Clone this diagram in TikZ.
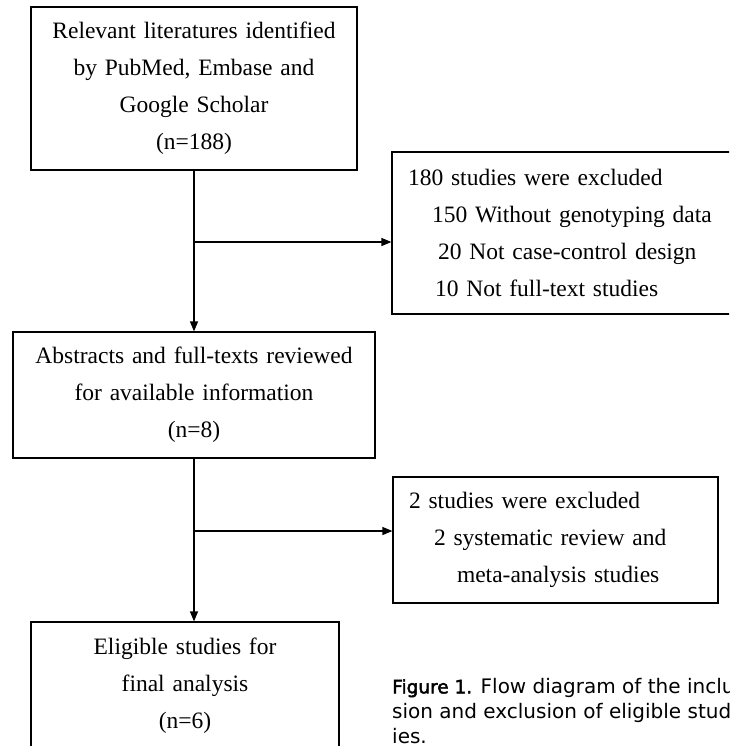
\documentclass[tikz,border=0pt]{standalone}
\usepackage{fontspec}
\setmainfont[WordSpace=2.3]{Liberation Serif}
\newfontfamily\capfont[BoldFont={DejaVu Sans},BoldFeatures={FakeBold=2.5}]{DejaVu Sans}
\usetikzlibrary{arrows.meta}
\begin{document}
\begin{tikzpicture}[x=1pt,y=-1pt,
    box/.style={draw,line width=1.2pt,inner sep=0pt,
      font=\fontsize{23.5}{37}\selectfont},
    arr/.style={line width=1.2pt,-{Triangle[length=10pt,width=8pt]}}]
  \path[use as bounding box] (0,0) rectangle (729,746);
  \clip (0,0) rectangle (729,746);
  % main column
  \draw
    (194,88.5) node[box,minimum width=326pt,minimum height=163pt,
      align=center,text width=316pt] (found)
      {Relevant literatures identified\\ by PubMed, Embase and\\
       Google Scholar\\ (n=188)}
    (194,395) node[box,minimum width=362pt,minimum height=126pt,
      align=center,text width=352pt] (review)
      {Abstracts and full-texts reviewed\\ for available information\\ (n=8)}
    (185,686) node[box,minimum width=308pt,minimum height=128pt,
      align=center,text width=298pt] (final)
      {Eligible studies for\\ final analysis\\ (n=6)};
  % exclusions
  \draw
    (566,233) node[box,minimum width=348pt,minimum height=162pt,
      align=left,text width=316pt] (excl1)
      {180 studies were excluded\\
       \hspace*{24pt}150 Without genotyping data\\
       \hspace*{30pt}20 Not case-control design\\
       \hspace*{27pt}10 Not full-text studies}
    (555.5,540) node[box,minimum width=325pt,minimum height=126pt,
      align=left,text width=293pt] (excl2)
      {2 studies were excluded\\
       \hspace*{25pt}2 systematic review and\\
       \hspace*{48pt}meta-analysis studies};
  \coordinate (split1) at (194,242);
  \coordinate (split2) at (194,531);
  \begin{scope}[line width=1.2pt]
    \draw[arr] (found.south) -- (review.north);
    \draw[arr] (split1) -- (split1 -| excl1.west);
    \draw[arr] (review.south) -- (review.south |- final.north);
    \draw[arr] (split2) -- (split2 -| excl2.west);
  \end{scope}
  % caption
  \node[anchor=north west,inner sep=0pt,align=left,
    font=\capfont\fontsize{20}{25}\selectfont] (caption) at (392,678)
    {{\bfseries\fontsize{18.5}{25}\selectfont Figure 1.} Flow diagram of the inclu-\\
     sion and exclusion of eligible stud-\\ ies.};
\end{tikzpicture}
\end{document}
